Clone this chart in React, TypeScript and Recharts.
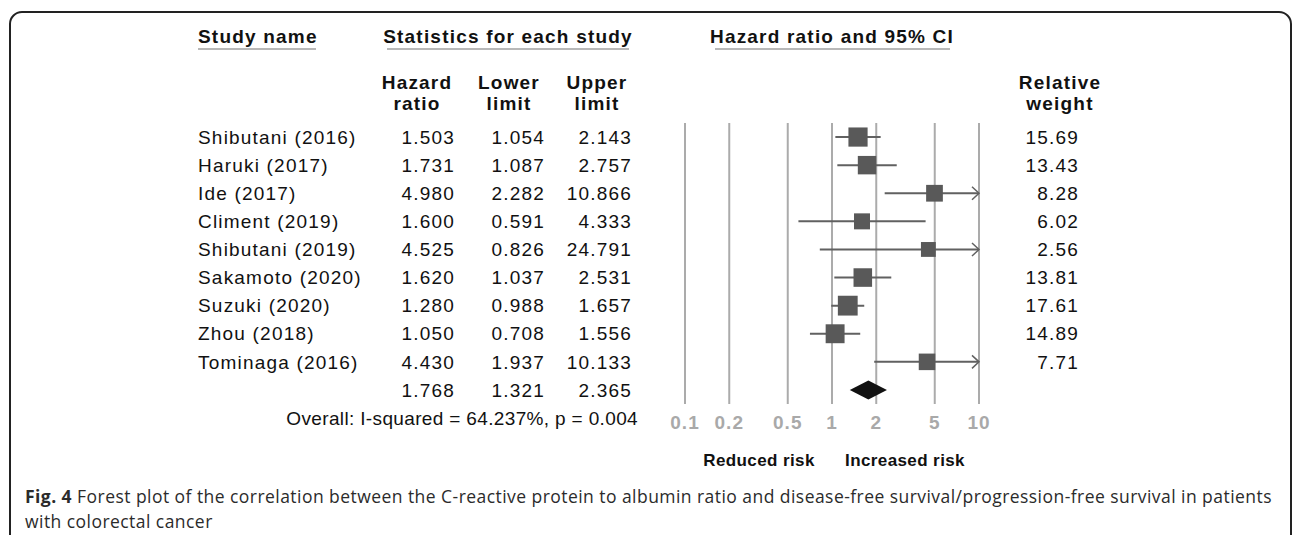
import React from 'react';
import { ScatterChart, Scatter, XAxis, YAxis, ReferenceLine, CartesianGrid } from 'recharts';

const studyNames = [
  'Shibutani (2016)', 'Haruki (2017)', 'Ide (2017)', 'Climent (2019)', 'Shibutani (2019)',
  'Sakamoto (2020)', 'Suzuki (2020)', 'Zhou (2018)', 'Tominaga (2016)',
];
const hazardRatios = [1.503, 1.731, 4.98, 1.6, 4.525, 1.62, 1.28, 1.05, 4.43];
const lowerLimits = [1.054, 1.087, 2.282, 0.591, 0.826, 1.037, 0.988, 0.708, 1.937];
const upperLimits = [2.143, 2.757, 10.866, 4.333, 24.791, 2.531, 1.657, 1.556, 10.133];
const relativeWeights = [15.69, 13.43, 8.28, 6.02, 2.56, 13.81, 17.61, 14.89, 7.71];

const overallHr = 1.768;
const overallLower = 1.321;
const overallUpper = 2.365;
const heterogeneityText = 'Overall: I-squared = 64.237%, p = 0.004';

const xTicks = [0.1, 0.2, 0.5, 1, 2, 5, 10];
const X_MIN = 0.1;
const X_MAX = 10;

const rows = studyNames.map((name, i) => ({
  name,
  hr: hazardRatios[i],
  lower: lowerLimits[i],
  upper: upperLimits[i],
  weight: relativeWeights[i],
  row: i,
}));
const SUMMARY_ROW = rows.length;
const rowTicks = [...rows.map((r) => r.row), SUMMARY_ROW];

const FONT = '"Liberation Sans", Arial, Helvetica, sans-serif';
const textStyle = { fontFamily: FONT, fontSize: 19, letterSpacing: 1.2 };

// table text drawn from the row axis ticks, so it lines up with the plot rows
const RowTick = (props: any) => {
  const { y, payload } = props;
  const i = payload.value;
  const common = { ...textStyle, fill: '#111', dy: '0.35em' } as any;
  if (i === SUMMARY_ROW) {
    return (
      <g>
        <text x={455} y={y} textAnchor="end" {...common}>{overallHr.toFixed(3)}</text>
        <text x={545} y={y} textAnchor="end" {...common}>{overallLower.toFixed(3)}</text>
        <text x={632} y={y} textAnchor="end" {...common}>{overallUpper.toFixed(3)}</text>
        <text x={638} y={y + 28} textAnchor="end" {...common} fontSize={19} letterSpacing={0.35}>
          {heterogeneityText}
        </text>
      </g>
    );
  }
  const r = rows[i];
  if (!r) return null;
  return (
    <g>
      <text x={198} y={y} textAnchor="start" {...common}>{r.name}</text>
      <text x={455} y={y} textAnchor="end" {...common}>{r.hr.toFixed(3)}</text>
      <text x={545} y={y} textAnchor="end" {...common}>{r.lower.toFixed(3)}</text>
      <text x={632} y={y} textAnchor="end" {...common}>{r.upper.toFixed(3)}</text>
      <text x={1079} y={y} textAnchor="end" {...common}>{r.weight.toFixed(2)}</text>
    </g>
  );
};

const WeightSquare = (props: any) => {
  const { cx, cy, payload } = props;
  if (cx == null || cy == null) return null;
  const w = payload?.weight ?? 10;
  const s = 14 + 0.33 * w;
  return <rect x={cx - s / 2} y={cy - s / 2} width={s} height={s} fill="#595959" />;
};

const ciShape = (arrow: boolean) => (p: any) => {
  const { x1, y1, x2, y2 } = p;
  return (
    <g>
      <line x1={x1} y1={y1} x2={x2} y2={y2} stroke="#616161" strokeWidth={2} />
      {arrow && (
        <polyline
          points={`${x2 - 7},${y2 - 6.5} ${x2},${y2} ${x2 - 7},${y2 + 6.5}`}
          fill="none"
          stroke="#616161"
          strokeWidth={1.5}
        />
      )}
    </g>
  );
};

const diamondShape = (p: any) => {
  const { x1, y1, x2 } = p;
  const t = (Math.log(overallHr) - Math.log(overallLower)) / (Math.log(overallUpper) - Math.log(overallLower));
  const xm = x1 + (x2 - x1) * t;
  const h = 9.5;
  return <polygon points={`${x1},${y1} ${xm},${y1 - h} ${x2},${y1} ${xm},${y1 + h}`} fill="#111" />;
};

export default function App() {
  return (
    <div style={{ position: 'relative', width: 1292, height: 535, overflow: 'hidden', background: '#fff' }}>
      <style>{'body{margin:0;}'}</style>

      <div
        style={{
          position: 'absolute', left: 9, top: 11, width: 1283, height: 620,
          border: '2px solid #222', borderRadius: 13, boxSizing: 'border-box',
        }}
      />

      <div style={{ position: 'absolute', left: 0, top: 0 }}>
        <ScatterChart width={1292} height={450} margin={{ top: 123, right: 313, bottom: 0, left: 0 }}>
          <CartesianGrid horizontal={false} stroke="#ababab" strokeWidth={2} />
          <XAxis
            type="number"
            dataKey="hr"
            scale="log"
            domain={[X_MIN, X_MAX]}
            ticks={xTicks}
            allowDataOverflow
            axisLine={false}
            tickLine={false}
            height={46}
            tickMargin={6}
            tickFormatter={(v: number) => String(v)}
            tick={{ fill: '#a9a9a9', fontSize: 19, fontWeight: 700, fontFamily: FONT, letterSpacing: 1 }}
          />
          <YAxis
            type="number"
            dataKey="row"
            domain={[-0.5, SUMMARY_ROW + 0.5]}
            reversed
            ticks={rowTicks}
            interval={0}
            width={685}
            axisLine={false}
            tickLine={false}
            tick={<RowTick />}
          />
          {rows.map((r) => (
            <ReferenceLine
              key={r.name}
              segment={[
                { x: Math.max(r.lower, X_MIN), y: r.row },
                { x: Math.min(r.upper, X_MAX), y: r.row },
              ]}
              shape={ciShape(r.upper > X_MAX)}
            />
          ))}
          <ReferenceLine
            segment={[
              { x: overallLower, y: SUMMARY_ROW },
              { x: overallUpper, y: SUMMARY_ROW },
            ]}
            shape={diamondShape}
          />
          <Scatter data={rows} shape={<WeightSquare />} isAnimationActive={false} />
        </ScatterChart>
      </div>

      <svg width={1292} height={535} style={{ position: 'absolute', left: 0, top: 0, pointerEvents: 'none' }}>
        <g style={{ ...textStyle, fontWeight: 700 } as any} fill="#111">
          <text x={198} y={43}>Study name</text>
          <text x={508} y={43} textAnchor="middle">Statistics for each study</text>
          <text x={832} y={43} textAnchor="middle">Hazard ratio and 95% CI</text>

          <text x={417} y={89} textAnchor="middle">Hazard</text>
          <text x={417} y={110} textAnchor="middle">ratio</text>
          <text x={509} y={89} textAnchor="middle">Lower</text>
          <text x={509} y={110} textAnchor="middle">limit</text>
          <text x={597} y={89} textAnchor="middle">Upper</text>
          <text x={597} y={110} textAnchor="middle">limit</text>
          <text x={1060} y={89} textAnchor="middle">Relative</text>
          <text x={1060} y={110} textAnchor="middle">weight</text>

          <text x={759} y={466} textAnchor="middle" fontSize={17} letterSpacing={0.4}>Reduced risk</text>
          <text x={905} y={466} textAnchor="middle" fontSize={17} letterSpacing={0.4}>Increased risk</text>
        </g>
        <g stroke="#a0a0a0" strokeWidth={1.5}>
          <line x1={198} y1={49} x2={316} y2={49} />
          <line x1={387} y1={49} x2={629} y2={49} />
          <line x1={715} y1={49} x2={950} y2={49} />
        </g>
      </svg>

      <div
        style={{
          position: 'absolute', left: 25, top: 484, fontFamily: '"Open Sans", sans-serif',
          fontSize: 17.5, letterSpacing: 0.45, lineHeight: '25px', color: '#2b2b2b', whiteSpace: 'nowrap',
        }}
      >
        <b>Fig. 4</b> Forest plot of the correlation between the C-reactive protein to albumin ratio and disease-free survival/progression-free survival in patients
        <br />
        with colorectal cancer
      </div>
    </div>
  );
}
